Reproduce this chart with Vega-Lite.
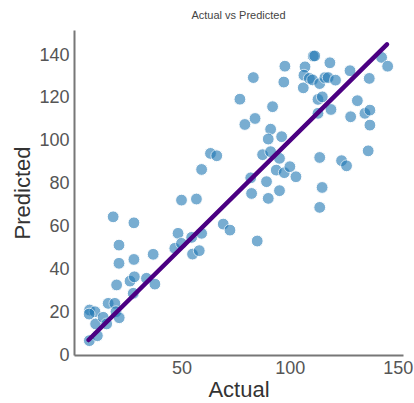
{
  "$schema": "https://vega.github.io/schema/vega-lite/v6.json",
  "width": 329,
  "height": 325,
  "autosize": {"type": "none"},
  "padding": {"left": 74, "top": 30, "right": 11, "bottom": 48},
  "background": "white",
  "config": {
    "view": {"stroke": null},
    "font": "Liberation Sans"
  },
  "title": {
    "text": "Actual vs Predicted",
    "fontSize": 11,
    "fontWeight": "normal",
    "color": "#444444",
    "anchor": "middle",
    "offset": 9
  },
  "datasets": {
    "pts": [
      {"actual": 7.4, "predicted": 6.7},
      {"actual": 11.1, "predicted": 9.0},
      {"actual": 7.5, "predicted": 21.0},
      {"actual": 10.0, "predicted": 20.2},
      {"actual": 7.3, "predicted": 19.1},
      {"actual": 10.3, "predicted": 14.5},
      {"actual": 13.8, "predicted": 17.6},
      {"actual": 15.4, "predicted": 14.5},
      {"actual": 16.1, "predicted": 24.1},
      {"actual": 19.2, "predicted": 24.1},
      {"actual": 19.7, "predicted": 20.2},
      {"actual": 21.2, "predicted": 17.4},
      {"actual": 18.4, "predicted": 64.5},
      {"actual": 21.1, "predicted": 51.3},
      {"actual": 21.1, "predicted": 42.8},
      {"actual": 20.0, "predicted": 32.7},
      {"actual": 28.0, "predicted": 61.7},
      {"actual": 28.0, "predicted": 44.6},
      {"actual": 26.2, "predicted": 34.5},
      {"actual": 28.2, "predicted": 36.5},
      {"actual": 27.7, "predicted": 28.8},
      {"actual": 33.8, "predicted": 35.8},
      {"actual": 36.9, "predicted": 47.0},
      {"actual": 37.7, "predicted": 33.1},
      {"actual": 50.0, "predicted": 72.3},
      {"actual": 56.9, "predicted": 72.8},
      {"actual": 48.4, "predicted": 56.8},
      {"actual": 46.9, "predicted": 49.8},
      {"actual": 50.0, "predicted": 52.1},
      {"actual": 54.7, "predicted": 54.9},
      {"actual": 55.1, "predicted": 47.1},
      {"actual": 58.2, "predicted": 48.7},
      {"actual": 59.3, "predicted": 56.8},
      {"actual": 59.3, "predicted": 86.6},
      {"actual": 63.4, "predicted": 94.1},
      {"actual": 66.3, "predicted": 93.0},
      {"actual": 69.3, "predicted": 61.1},
      {"actual": 72.4, "predicted": 58.3},
      {"actual": 85.0, "predicted": 53.2},
      {"actual": 77.0, "predicted": 119.4},
      {"actual": 79.3, "predicted": 107.6},
      {"actual": 83.2, "predicted": 129.5},
      {"actual": 84.0, "predicted": 110.4},
      {"actual": 82.0, "predicted": 82.7},
      {"actual": 82.4, "predicted": 75.4},
      {"actual": 87.5, "predicted": 93.5},
      {"actual": 89.3, "predicted": 80.9},
      {"actual": 90.1, "predicted": 73.1},
      {"actual": 92.1, "predicted": 115.9},
      {"actual": 91.2, "predicted": 105.4},
      {"actual": 90.1, "predicted": 100.8},
      {"actual": 91.2, "predicted": 94.9},
      {"actual": 96.3, "predicted": 101.9},
      {"actual": 95.3, "predicted": 91.8},
      {"actual": 93.8, "predicted": 86.3},
      {"actual": 97.5, "predicted": 85.1},
      {"actual": 100.1, "predicted": 87.9},
      {"actual": 102.9, "predicted": 83.2},
      {"actual": 95.3, "predicted": 76.7},
      {"actual": 97.8, "predicted": 134.8},
      {"actual": 97.3, "predicted": 127.4},
      {"actual": 106.3, "predicted": 124.7},
      {"actual": 107.1, "predicted": 134.5},
      {"actual": 106.6, "predicted": 130.6},
      {"actual": 109.1, "predicted": 129.1},
      {"actual": 110.6, "predicted": 128.4},
      {"actual": 110.9, "predicted": 139.5},
      {"actual": 111.6, "predicted": 139.6},
      {"actual": 113.9, "predicted": 126.7},
      {"actual": 113.1, "predicted": 119.3},
      {"actual": 113.1, "predicted": 112.8},
      {"actual": 115.1, "predicted": 120.5},
      {"actual": 116.3, "predicted": 129.5},
      {"actual": 117.8, "predicted": 129.5},
      {"actual": 118.6, "predicted": 136.4},
      {"actual": 119.1, "predicted": 114.6},
      {"actual": 121.2, "predicted": 128.3},
      {"actual": 113.9, "predicted": 92.2},
      {"actual": 115.0, "predicted": 78.2},
      {"actual": 113.9, "predicted": 68.9},
      {"actual": 124.0, "predicted": 90.7},
      {"actual": 126.3, "predicted": 88.3},
      {"actual": 127.9, "predicted": 132.7},
      {"actual": 128.2, "predicted": 111.2},
      {"actual": 131.3, "predicted": 118.7},
      {"actual": 134.8, "predicted": 112.8},
      {"actual": 137.1, "predicted": 114.3},
      {"actual": 136.8, "predicted": 129.1},
      {"actual": 137.1, "predicted": 107.3},
      {"actual": 136.3, "predicted": 95.3},
      {"actual": 142.5, "predicted": 138.9},
      {"actual": 145.3, "predicted": 134.8}
    ],
    "fit": [
      {"actual": 7, "predicted": 7},
      {"actual": 145, "predicted": 145}
    ]
  },
  "layer": [
    {
      "data": {"name": "pts"},
      "mark": {"type": "circle", "size": 140, "color": "#1f77b4", "opacity": 0.6, "stroke": "white", "strokeWidth": 1},
      "encoding": {
        "x": {
          "field": "actual", "type": "quantitative",
          "scale": {"domain": [0.3, 152.4], "nice": false, "zero": false},
          "axis": {
            "title": "Actual", "values": [50, 100, 150], "grid": false, "ticks": false,
            "domainColor": "#777777", "domainWidth": 2,
            "labelFontSize": 18, "labelColor": "#555555", "labelPadding": 4,
            "titleFontSize": 22, "titleFontWeight": "normal", "titleColor": "#333333", "titlePadding": 2
          }
        },
        "y": {
          "field": "predicted", "type": "quantitative",
          "scale": {"domain": [0, 151.7], "nice": false, "zero": false},
          "axis": {
            "title": "Predicted", "values": [0, 20, 40, 60, 80, 100, 120, 140], "grid": false, "ticks": false,
            "domainColor": "#777777", "domainWidth": 2,
            "labelFontSize": 18, "labelColor": "#555555", "labelPadding": 5,
            "titleFontSize": 22, "titleFontWeight": "normal", "titleColor": "#333333", "titlePadding": 4
          }
        }
      }
    },
    {
      "data": {"name": "fit"},
      "mark": {"type": "line", "color": "#4b0082", "strokeWidth": 4.5, "strokeCap": "round"},
      "encoding": {
        "x": {"field": "actual", "type": "quantitative"},
        "y": {"field": "predicted", "type": "quantitative"}
      }
    }
  ]
}
